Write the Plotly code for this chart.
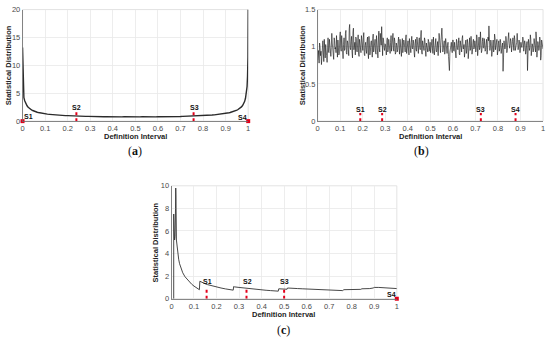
import plotly.graph_objects as go
import numpy as np

W, H = 550, 342

# ---------------- data ----------------
tick_x_vals = [0, 0.1, 0.2, 0.3, 0.4, 0.5, 0.6, 0.7, 0.8, 0.9, 1]
tick_x_text = ["0", "0.1", "0.2", "0.3", "0.4", "0.5", "0.6", "0.7", "0.8", "0.9", "1"]

# panel (a): U-shaped distribution
xa_left = [0, 0.003, 0.006, 0.01, 0.015, 0.02, 0.025, 0.03, 0.035, 0.04, 0.045, 0.05,
           0.055, 0.06, 0.065, 0.07, 0.075, 0.08, 0.085, 0.09, 0.095]
ya_left = [13.2, 4.7, 4.2, 3.6, 3.1, 2.75, 2.5, 2.3, 2.15, 2.0, 1.9, 1.8,
           1.72, 1.66, 1.6, 1.55, 1.5, 1.45, 1.42, 1.38, 1.35]
ya_mid = [1.30, 1.25, 1.21, 1.16, 1.13, 1.10, 1.07, 1.04, 1.02, 0.99,
          0.98, 0.95, 0.94, 0.92, 0.90, 0.90, 0.87, 0.88, 0.85, 0.86,
          0.83, 0.84, 0.82, 0.83, 0.80, 0.81, 0.79, 0.80, 0.78, 0.80,
          0.77, 0.79, 0.77, 0.78, 0.76, 0.78, 0.76, 0.77, 0.75, 0.77,
          0.75, 0.77, 0.76, 0.78, 0.76, 0.77, 0.78, 0.76, 0.79, 0.77,
          0.79, 0.78, 0.80, 0.79, 0.81, 0.80, 0.82, 0.81, 0.83, 0.84,
          0.83, 0.85, 0.86, 0.87, 0.88, 0.90, 0.91, 0.93, 0.95, 0.97,
          0.99, 1.01, 1.04, 1.06, 1.09, 1.12, 1.16, 1.20, 1.25, 1.31,
          1.38]
xa_mid = list(np.round(np.linspace(0.10, 0.90, len(ya_mid)), 3))
xa_right = [0.905, 0.91, 0.915, 0.92, 0.925, 0.93, 0.935, 0.94, 0.945, 0.95, 0.955, 0.96,
            0.965, 0.97, 0.975, 0.98, 0.984, 0.988, 0.992, 0.995, 0.997, 0.999, 1.0]
ya_right = [1.42, 1.45, 1.5, 1.55, 1.6, 1.66, 1.72, 1.8, 1.88, 1.97, 2.08, 2.2,
            2.35, 2.55, 2.8, 3.1, 3.5, 4.1, 5.0, 6.2, 8.0, 11.5, 20.0]
xa = xa_left + xa_mid + xa_right
ya = ya_left + ya_mid + ya_right

# panel (b): roughly uniform distribution (two interleaved sample rows)
yb_odd = [0.82, 0.95, 1.05, 0.88, 0.76, 1.02, 0.93, 1.10, 0.85, 0.98, 0.79, 1.12,
          0.92, 1.04, 0.87, 1.18, 0.95, 0.83, 1.08, 0.99, 1.15, 0.86, 1.03, 0.91,
          1.20, 0.94, 1.07, 0.84, 1.12, 0.97, 1.22, 0.90, 1.05, 0.88, 1.30, 0.96,
          1.14, 0.85, 1.25, 0.99, 0.89, 1.11, 0.93, 1.16, 0.87, 1.02, 0.92, 1.09,
          0.95, 1.19, 0.88, 1.06, 0.91, 1.13, 0.84, 1.00, 0.94, 1.08, 0.86, 1.17,
          0.97, 1.10, 0.90, 1.04, 0.85, 1.21, 0.93, 1.06, 1.27, 0.88, 1.09, 0.95,
          1.03, 0.89, 1.12, 0.96, 1.05, 0.91, 1.15, 1.00, 1.18, 0.94, 1.07, 0.92,
          1.02, 0.96, 1.13, 0.90, 1.04, 0.87, 1.11, 0.98, 1.06, 0.93, 1.16, 0.95,
          1.08, 0.89, 1.03, 0.92, 1.14, 0.97, 1.05, 0.86, 1.10, 0.94, 1.00, 0.91,
          1.12, 0.96, 1.22, 0.90, 1.04, 0.95, 1.09, 0.87, 1.02, 0.93, 1.07, 0.98,
          0.92, 1.05, 0.97, 1.13, 0.89, 1.08, 0.94, 1.01, 0.88, 1.18, 0.96, 1.06,
          1.25, 0.93, 1.04, 0.90, 1.11, 0.95, 1.02, 0.87, 0.68, 0.99, 1.06, 0.92,
          1.09, 0.94, 1.00, 0.85, 1.07, 0.96, 1.12, 0.89, 1.03, 0.93, 1.15, 0.97,
          0.86, 1.05, 0.91, 1.10, 0.84, 1.02, 0.95, 1.14, 0.90, 1.06, 0.97, 1.08,
          0.93, 1.16, 0.88, 1.04, 0.96, 1.20, 0.92, 1.07, 0.99, 1.11, 0.94, 1.05,
          0.90, 1.13, 1.28, 0.95, 1.09, 0.87, 1.02, 0.93, 1.17, 0.96, 1.06, 0.89,
          1.04, 0.94, 1.10, 0.91, 1.01, 0.67, 1.08, 0.97, 1.14, 0.92, 1.05, 1.19,
          0.98, 1.11, 0.93, 1.07, 1.00, 1.15, 0.95, 1.03, 1.18, 0.96, 1.09, 0.92,
          1.06, 0.99, 1.13, 0.94, 1.08, 0.90, 1.02, 0.68, 1.10, 0.95, 1.16, 0.88,
          1.04, 0.93, 1.11, 0.97, 1.20, 0.86, 1.07, 0.95, 1.13, 0.82, 1.09, 1.00]
yb_even = [0.90, 0.78, 1.00, 0.94, 0.86, 1.08, 0.80, 0.97, 1.03, 0.88, 1.06, 0.93,
           1.10, 0.89, 0.99, 1.05, 0.90, 1.12, 0.97, 0.92, 1.01, 1.09, 0.89, 1.14,
           0.98, 1.15, 0.91, 1.03, 0.95, 1.18, 0.92, 1.08, 0.96, 1.24, 0.99, 1.07,
           0.93, 1.20, 0.96, 1.06, 1.13, 0.94, 1.05, 0.90, 1.10, 0.97, 1.15, 0.95,
           1.12, 0.90, 1.02, 0.96, 1.08, 0.92, 1.14, 0.89, 1.05, 0.99, 1.11, 0.93,
           1.06, 0.92, 1.15, 0.88, 1.09, 0.97, 1.18, 1.02, 0.95, 1.12, 0.99, 1.04,
           0.96, 1.08, 0.93, 1.10, 0.98, 1.06, 0.94, 1.09, 0.97, 1.12, 0.90, 1.05,
           0.93, 1.07, 0.98, 1.10, 0.95, 1.04, 0.92, 1.09, 0.99, 1.12, 0.91, 1.03,
           0.97, 1.11, 0.94, 1.06, 0.98, 1.09, 0.92, 1.04, 0.96, 1.13, 0.95, 1.07,
           0.99, 1.14, 0.93, 1.08, 0.97, 1.12, 0.95, 1.05, 0.98, 1.10, 0.94, 1.06,
           0.98, 1.10, 0.91, 1.04, 0.96, 1.11, 0.93, 1.07, 0.97, 1.12, 0.92, 1.14,
           1.10, 0.97, 1.08, 0.94, 1.03, 0.91, 1.06, 0.80, 0.92, 1.04, 0.96, 1.09,
           0.95, 1.06, 0.92, 1.10, 0.97, 1.04, 0.90, 1.08, 0.95, 1.11, 0.98, 1.03,
           0.93, 1.09, 0.96, 1.05, 0.91, 1.12, 0.97, 1.06, 0.94, 1.10, 0.99, 1.04,
           0.97, 1.10, 0.94, 1.13, 0.99, 1.08, 0.95, 1.12, 0.98, 1.06, 0.96, 1.10,
           0.96, 1.08, 1.15, 1.00, 1.05, 0.93, 1.09, 0.97, 1.12, 0.99, 1.10, 0.94,
           1.08, 0.97, 1.06, 0.94, 1.05, 0.85, 1.02, 1.00, 1.09, 0.95, 1.13, 1.04,
           1.02, 1.07, 0.97, 1.12, 0.95, 1.10, 0.99, 1.06, 1.11, 1.00, 1.05, 0.96,
           1.02, 1.05, 1.09, 0.98, 1.04, 0.94, 1.07, 0.85, 1.04, 0.99, 1.10, 0.93,
           1.00, 0.97, 1.06, 0.93, 1.12, 0.92, 1.03, 0.98, 1.08, 0.88, 1.05, 0.97]
yb = [v for pair in zip(yb_odd, yb_even) for v in pair]
xb = list(np.linspace(0, 1, len(yb)))

# panel (c): decaying distribution with steps
xc = [0.010, 0.010, 0.012, 0.014, 0.016, 0.018, 0.019, 0.020, 0.022, 0.025,
      0.028, 0.032, 0.036, 0.040, 0.045, 0.050, 0.060, 0.070, 0.080, 0.090,
      0.100, 0.110, 0.120, 0.124, 0.126, 0.130, 0.140, 0.150, 0.160, 0.180,
      0.200, 0.220, 0.240, 0.260, 0.274, 0.276, 0.280, 0.300, 0.320, 0.340,
      0.360, 0.380, 0.400, 0.420, 0.440, 0.460, 0.474, 0.476, 0.490, 0.500,
      0.510, 0.513, 0.515, 0.520, 0.540, 0.560, 0.580, 0.600, 0.620, 0.640,
      0.660, 0.680, 0.700, 0.720, 0.740, 0.760, 0.765, 0.780, 0.800, 0.820,
      0.840, 0.845, 0.860, 0.880, 0.895, 0.900, 0.920, 0.940, 0.960, 0.980,
      1.000]
yc = [0.0, 7.5, 6.0, 5.2, 5.5, 8.0, 9.8, 9.0, 5.2, 4.6,
      4.0, 3.5, 3.1, 2.8, 2.5, 2.3, 1.95, 1.7, 1.45, 1.28,
      1.12, 0.98, 0.85, 0.80, 1.55, 1.50, 1.40, 1.32, 1.25, 1.13,
      1.03, 0.95, 0.87, 0.80, 0.76, 1.08, 1.05, 1.00, 0.95, 0.90,
      0.86, 0.82, 0.78, 0.75, 0.72, 0.69, 0.67, 0.88, 0.86, 0.85,
      0.84, 0.84, 0.95, 0.95, 0.93, 0.90, 0.88, 0.86, 0.84, 0.82,
      0.80, 0.78, 0.77, 0.75, 0.73, 0.72, 0.80, 0.80, 0.79, 0.82,
      0.83, 0.88, 0.88, 0.90, 0.95, 1.00, 1.00, 0.97, 0.95, 0.92,
      0.90]

# markers S1..S4 per panel
s_labels = ["S1", "S2", "S3", "S4"]
sa_x = [0.0, 0.2386, 0.758, 1.0]
sb_x = [0.189, 0.286, 0.724, 0.878]
sc_x = [0.156, 0.333, 0.5, 1.0]

# ---------------- layout helpers ----------------
def px(p):
    return p / W

def py(p):
    return 1 - p / H

dom = {
    "a": ([px(20.7), px(248)], [py(120.3), py(5.7)]),
    "b": ([px(318), px(545)], [py(120.3), py(5.7)]),
    "c": ([px(170.7), px(397.7)], [py(302.7), py(186.7)]),
}

FONT = "Liberation Sans, Arial, sans-serif"
TICKFONT = dict(family=FONT, size=7.5, color="#4a4a4a")
GRID = "#e8e8e8"
AXLINE = "#6a6a6a"
RED = "#e3001b"

fig = go.Figure()

def add_line(x, y, ax, color, width):
    fig.add_trace(go.Scatter(x=x, y=y, mode="lines", xaxis=ax[0], yaxis=ax[1],
                             line=dict(color=color, width=width), showlegend=False,
                             hoverinfo="skip"))

def add_marker(xpos, ytop, ax):
    fig.add_trace(go.Scatter(x=[xpos, xpos], y=[0, ytop], mode="lines", xaxis=ax[0], yaxis=ax[1],
                             line=dict(color=RED, width=2, dash="dot"), showlegend=False,
                             hoverinfo="skip"))

def add_dot(xpos, ax):
    fig.add_trace(go.Scatter(x=[xpos], y=[0], mode="markers", xaxis=ax[0], yaxis=ax[1],
                             marker=dict(color=RED, size=4, symbol="square"), cliponaxis=False,
                             showlegend=False, hoverinfo="skip"))

def add_label(text, x, y, ax):
    fig.add_annotation(text="<b>%s</b>" % text, x=x, y=y, xref=ax[0], yref=ax[1],
                       showarrow=False, font=dict(family=FONT, size=7, color="#111"))

# panel (a)
A = ("x", "y")
add_line(xa, ya, A, "#2b2b2b", 1.4)
add_marker(sa_x[1], 1.6, A)
add_marker(sa_x[2], 1.6, A)
add_dot(sa_x[0], A)
add_dot(sa_x[3], A)
add_label(s_labels[0], 0.026, 0.85, A)
add_label(s_labels[1], 0.239, 2.45, A)
add_label(s_labels[2], 0.76, 2.45, A)
add_label(s_labels[3], 0.975, 0.65, A)

# panel (b)
B = ("x2", "y2")
add_line(xb, yb, B, "#111111", 0.6)
for i, sx in enumerate(sb_x):
    add_marker(sx, 0.11, B)
    add_label(s_labels[i], sx, 0.16, B)

# panel (c)
C = ("x3", "y3")
add_line(xc, yc, C, "#333333", 0.9)
for i in range(3):
    add_marker(sc_x[i], 1.05, C)
    add_label(s_labels[i], sc_x[i] + 0.003, 1.55, C)
add_dot(sc_x[3], C)
add_label(s_labels[3], 0.975, 0.4, C)

def xaxis_cfg(d, anchor):
    return dict(domain=d, anchor=anchor, range=[0, 1], tickvals=tick_x_vals, ticktext=tick_x_text,
                showgrid=True, gridcolor=GRID, gridwidth=0.8, zeroline=False,
                showline=True, linecolor=AXLINE, linewidth=0.8, ticks="",
                tickfont=TICKFONT, fixedrange=True)

def yaxis_cfg(d, anchor, rng, tv, tt):
    return dict(domain=d, anchor=anchor, range=rng, tickvals=tv, ticktext=tt,
                showgrid=True, gridcolor=GRID, gridwidth=0.8, zeroline=False,
                showline=True, linecolor=AXLINE, linewidth=0.8, ticks="",
                tickfont=TICKFONT, fixedrange=True)

ya_ticks = [0, 5, 10, 15, 20]
yb_ticks = [0, 0.5, 1, 1.5]
yc_ticks = [0, 2, 4, 6, 8, 10]

fig.update_layout(
    width=W, height=H, margin=dict(l=0, r=0, t=0, b=0),
    paper_bgcolor="white", plot_bgcolor="white",
    xaxis=xaxis_cfg(dom["a"][0], "y"),
    yaxis=yaxis_cfg(dom["a"][1], "x", [0, 20], ya_ticks, [str(v) for v in ya_ticks]),
    xaxis2=xaxis_cfg(dom["b"][0], "y2"),
    yaxis2=yaxis_cfg(dom["b"][1], "x2", [0, 1.5], yb_ticks, ["0", "0.5", "1", "1.5"]),
    xaxis3=xaxis_cfg(dom["c"][0], "y3"),
    yaxis3=yaxis_cfg(dom["c"][1], "x3", [0, 10], yc_ticks, [str(v) for v in yc_ticks]),
    showlegend=False,
    hovermode=False,
)

# light frame around each plot area
for xr, yr in [("x", "y"), ("x2", "y2"), ("x3", "y3")]:
    fig.add_shape(type="rect", xref=xr + " domain", yref=yr + " domain", x0=0, x1=1, y0=0, y1=1,
                  line=dict(color="#dcdcdc", width=0.8), layer="below")

def add_text(text, xp, yp, size=7.5, angle=0, family=FONT, color="#222"):
    fig.add_annotation(text=text, x=px(xp), y=py(yp), xref="paper", yref="paper",
                       showarrow=False, textangle=angle,
                       font=dict(family=family, size=size, color=color),
                       xanchor="center", yanchor="middle")

# axis titles
add_text("<b>Statistical Distribution</b>", 6, 63, angle=-90)
add_text("<b>Definition Interval</b>", 134, 136.5)
add_text("<b>Statistical Distribution</b>", 303, 63, angle=-90)
add_text("<b>Definition Interval</b>", 432, 136.5)
add_text("<b>Statistical Distribution</b>", 155, 245, angle=-90)
add_text("<b>Definition Interval</b>", 284, 318.8)

# panel captions
SERIF = "Liberation Serif, DejaVu Serif, serif"
add_text("(<b>a</b>)", 134, 151, size=12, family=SERIF, color="#111")
add_text("(<b>b</b>)", 423, 151, size=12, family=SERIF, color="#111")
add_text("(<b>c</b>)", 284, 335, size=12, family=SERIF, color="#111")

# remove the default 8px page margin so the figure sits at the window's corner
fig.write_html("out.html", config={"displayModeBar": False, "staticPlot": True},
               post_script="document.body.style.margin='0';")
